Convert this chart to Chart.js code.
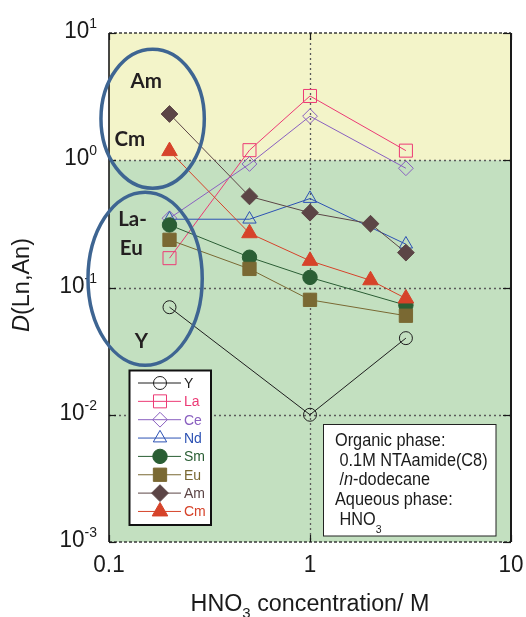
<!DOCTYPE html>
<html>
<head>
<meta charset="utf-8">
<script src="https://cdn.jsdelivr.net/npm/chart.js@4/dist/chart.umd.min.js"></script>
<style>
  html, body { margin: 0; padding: 0; background: #ffffff; }
  canvas { display: block; }
</style>
</head>
<body>
<canvas id="chart" width="526" height="617"></canvas>
<script>
// Axis ticks (log decades)
const xTickValues = [0.1, 1, 10];
const yTickValues = [10, 1, 0.1, 0.01, 0.001];

// HNO3 concentrations (M) sampled for each group of elements
const concY = [0.2, 1, 3];
const concLn = [0.2, 0.5, 1, 3];
const concAn = [0.2, 0.5, 1, 2, 3];

// Distribution ratios D
const dY  = [0.070, 0.010, 0.040];
const dLa = [0.17, 1.20, 3.20, 1.19];
const dCe = [0.35, 0.935, 2.22, 0.865];
const dNd = [0.344, 0.344, 0.50, 0.219];
const dSm = [0.31, 0.173, 0.12, 0.0726];
const dEu = [0.237, 0.14, 0.080, 0.060];
const dAm = [2.31, 0.52, 0.387, 0.317, 0.188];
const dCm = [1.18, 0.267, 0.162, 0.114, 0.082];

const seriesNames = ['Y', 'La', 'Ce', 'Nd', 'Sm', 'Eu', 'Am', 'Cm'];
const seriesX = [concY, concLn, concLn, concLn, concLn, concLn, concAn, concAn];
const seriesD = [dY, dLa, dCe, dNd, dSm, dEu, dAm, dCm];

// D = 1 separates the two shaded regions
const phaseBoundary = 1;

// Marker / colour styling per series
const seriesStyle = {
  Y:  { color: '#1e1e1e', shape: 'circle',   radius: 6.5, filled: false },
  La: { color: '#ec3a75', shape: 'rect',     radius: 9.2, filled: false },
  Ce: { color: '#8a60c0', shape: 'rectRot',  radius: 7.4, filled: false },
  Nd: { color: '#2d52b4', shape: 'triangle', radius: 7.7, filled: false },
  Sm: { color: '#2a5e34', shape: 'circle',   radius: 7.2, filled: true },
  Eu: { color: '#7a6933', shape: 'rect',     radius: 9.4, filled: true },
  Am: { color: '#5c4546', shape: 'rectRot',  radius: 8.4, filled: true },
  Cm: { color: '#d6432a', shape: 'triangle', radius: 9.0, filled: true }
};

// Grouping ellipses (bounding boxes in data units) and their captions
const groupEllipses = [
  { x: [0.0912, 0.298], y: [7.45, 0.603] },
  { x: [0.0786, 0.291], y: [0.561, 0.0245] }
];
const groupCaptions = [
  { text: 'Am',  x: 0.153, y: 4.20 },
  { text: 'Cm',  x: 0.127, y: 1.48 },
  { text: 'La-', x: 0.131, y: 0.345 },
  { text: 'Eu',  x: 0.129, y: 0.206 },
  { text: 'Y',   x: 0.145, y: 0.038 }
];

const FAM = '"Liberation Sans", Arial, Helvetica, sans-serif';
const YELLOW = '#f3f4c9';
const GREEN = '#c3e0c0';
const ELLIPSE = '#3e6592';

// draw a sequence of text pieces (different fonts / offsets) on one line
function drawRuns(ctx, parts, x, y, color, align, stretch) {
  ctx.save();
  ctx.fillStyle = color;
  ctx.textBaseline = 'alphabetic';
  ctx.textAlign = 'left';
  let total = 0;
  const widths = parts.map(p => { ctx.font = p.font; const w = ctx.measureText(p.t).width; total += w; return w; });
  let cx = align === 'center' ? x - total / 2 : align === 'right' ? x - total : x;
  parts.forEach((p, i) => {
    ctx.save();
    ctx.font = p.font;
    ctx.translate(cx, y + (p.dy || 0));
    ctx.scale(1, stretch || 1);
    ctx.fillText(p.t, 0, 0);
    ctx.restore();
    cx += widths[i];
  });
  ctx.restore();
}

function drawMarker(ctx, st, x, y) {
  ctx.save();
  ctx.strokeStyle = st.color;
  ctx.fillStyle = st.filled ? st.color : 'rgba(0,0,0,0)';
  ctx.lineWidth = 1;
  if (Chart.helpers && Chart.helpers.drawPoint) {
    Chart.helpers.drawPoint(ctx, { pointStyle: st.shape, radius: st.radius, rotation: 0, borderWidth: 1 }, x, y);
  } else {
    ctx.beginPath(); ctx.arc(x, y, st.radius, 0, Math.PI * 2); ctx.fill(); ctx.stroke();
  }
  ctx.restore();
}

const decorations = {
  id: 'decorations',
  beforeDatasetsDraw(chart) {
    const { ctx, chartArea: a, scales: { x, y } } = chart;
    const yOne = y.getPixelForValue(phaseBoundary);
    ctx.save();
    ctx.fillStyle = YELLOW;
    ctx.fillRect(a.left, a.top, a.right - a.left, yOne - a.top);
    ctx.fillStyle = GREEN;
    ctx.fillRect(a.left, yOne, a.right - a.left, a.bottom - yOne);

    // dotted decade grid
    ctx.strokeStyle = '#5a5a5a';
    ctx.lineWidth = 1.3;
    ctx.setLineDash([2, 3]);
    yTickValues.forEach(v => {
      const py = Math.round(y.getPixelForValue(v)) + 0.5;
      if (py <= a.top + 1 || py >= a.bottom - 1) return;
      ctx.beginPath(); ctx.moveTo(a.left, py); ctx.lineTo(a.right, py); ctx.stroke();
    });
    xTickValues.forEach(v => {
      const px = Math.round(x.getPixelForValue(v)) + 0.5;
      if (px <= a.left + 1 || px >= a.right - 1) return;
      ctx.beginPath(); ctx.moveTo(px, a.top); ctx.lineTo(px, a.bottom); ctx.stroke();
    });
    ctx.restore();
  },
  afterDatasetsDraw(chart) {
    const { ctx, chartArea: a, scales: { x, y } } = chart;
    ctx.save();

    // frame: dashed top/bottom, solid sides
    ctx.strokeStyle = '#3a3a3a';
    ctx.lineWidth = 1.6;
    ctx.setLineDash([3, 2]);
    ctx.beginPath(); ctx.moveTo(a.left, a.top); ctx.lineTo(a.right, a.top); ctx.stroke();
    ctx.beginPath(); ctx.moveTo(a.left, a.bottom); ctx.lineTo(a.right, a.bottom); ctx.stroke();
    ctx.setLineDash([]);
    ctx.strokeStyle = '#1a1a1a';
    ctx.lineWidth = 1.6;
    ctx.beginPath(); ctx.moveTo(a.left, a.top); ctx.lineTo(a.left, a.bottom); ctx.stroke();
    ctx.lineWidth = 2;
    ctx.beginPath(); ctx.moveTo(a.right, a.top); ctx.lineTo(a.right, a.bottom); ctx.stroke();

    // inward tick marks
    ctx.lineWidth = 1.2;
    yTickValues.forEach(v => {
      const py = Math.round(y.getPixelForValue(v)) + 0.5;
      ctx.beginPath(); ctx.moveTo(a.left, py); ctx.lineTo(a.left + 7, py); ctx.stroke();
      ctx.beginPath(); ctx.moveTo(a.right - 8, py); ctx.lineTo(a.right, py); ctx.stroke();
    });
    xTickValues.forEach(v => {
      const px = Math.round(x.getPixelForValue(v)) + 0.5;
      ctx.beginPath(); ctx.moveTo(px, a.bottom); ctx.lineTo(px, a.bottom - 7); ctx.stroke();
      ctx.beginPath(); ctx.moveTo(px, a.top); ctx.lineTo(px, a.top + 7); ctx.stroke();
    });

    // y tick labels 10^n
    yTickValues.forEach(v => {
      const py = y.getPixelForValue(v);
      const e = Math.round(Math.log10(v));
      drawRuns(ctx, [
        { t: '10', font: '22.5px ' + FAM },
        { t: String(e), font: '14px ' + FAM, dy: -10 }
      ], a.left - 12, py + 5, '#1a1a1a', 'right', 1.1);
    });
    // x tick labels
    xTickValues.forEach(v => {
      const px = x.getPixelForValue(v);
      drawRuns(ctx, [{ t: String(v), font: '22.5px ' + FAM }], px, 572, '#1a1a1a', 'center', 1.1);
    });

    // axis titles
    drawRuns(ctx, [
      { t: 'HNO', font: '23.3px ' + FAM },
      { t: '3', font: '15px ' + FAM, dy: 7 },
      { t: ' concentration/ M', font: '23.3px ' + FAM }
    ], (a.left + a.right) / 2, 611, '#1a1a1a', 'center', 1.0);

    ctx.save();
    ctx.translate(29, 285);
    ctx.rotate(-Math.PI / 2);
    drawRuns(ctx, [
      { t: 'D', font: 'italic 23.5px ' + FAM },
      { t: '(Ln,An)', font: '23.5px ' + FAM }
    ], 0, 0, '#1a1a1a', 'center', 1);
    ctx.restore();

    // group ellipses and captions
    ctx.strokeStyle = ELLIPSE;
    ctx.lineWidth = 3.5;
    groupEllipses.forEach(g => {
      const x0 = x.getPixelForValue(g.x[0]), x1 = x.getPixelForValue(g.x[1]);
      const y0 = y.getPixelForValue(g.y[0]), y1 = y.getPixelForValue(g.y[1]);
      ctx.beginPath();
      ctx.ellipse((x0 + x1) / 2, (y0 + y1) / 2, Math.abs(x1 - x0) / 2, Math.abs(y1 - y0) / 2, 0, 0, Math.PI * 2);
      ctx.stroke();
    });
    groupCaptions.forEach(c => {
      const px = x.getPixelForValue(c.x), py = y.getPixelForValue(c.y);
      drawRuns(ctx, [{ t: c.text, font: 'bold 20.5px Lato, ' + FAM }], px, py + 7, '#231f20', 'center', 1.05);
    });

    // legend box
    const lx = 129.5, ly = 370.5, lw = 81.5, lh = 154.5;
    ctx.fillStyle = '#ffffff';
    ctx.fillRect(lx, ly, lw, lh);
    ctx.strokeStyle = '#111111';
    ctx.lineWidth = 2;
    ctx.strokeRect(lx, ly, lw, lh);
    chart.data.datasets.forEach((ds, i) => {
      const st = seriesStyle[ds.label];
      const ry = 383 + i * 18.35;
      ctx.strokeStyle = st.color;
      ctx.lineWidth = 1;
      ctx.beginPath(); ctx.moveTo(138, ry); ctx.lineTo(181, ry); ctx.stroke();
      drawMarker(ctx, st, 160, ry);
      drawRuns(ctx, [{ t: ds.label, font: '14px ' + FAM }], 184, ry + 5, st.color, 'left', 1.1);
    });

    // conditions box
    const bx = 323.5, by = 424.5, bw = 172.5, bh = 111.5;
    ctx.fillStyle = '#ffffff';
    ctx.fillRect(bx, by, bw, bh);
    ctx.strokeStyle = '#222222';
    ctx.lineWidth = 1;
    ctx.strokeRect(bx, by, bw, bh);
    const f = '16.3px ' + FAM;
    const notes = [
      [{ t: 'Organic phase:', font: f }],
      [{ t: ' 0.1M NTAamide(C8)', font: f }],
      [{ t: ' /', font: f }, { t: 'n', font: 'italic ' + f }, { t: '-dodecane', font: f }],
      [{ t: 'Aqueous phase:', font: f }],
      [{ t: ' HNO', font: f }, { t: '3', font: '10.5px ' + FAM, dy: 8 }]
    ];
    const baselines = [446, 466, 485, 505, 525];
    notes.forEach((parts, i) => drawRuns(ctx, parts, 335, baselines[i], '#1a1a1a', 'left', 1.1));

    ctx.restore();
  }
};

const datasets = seriesNames.map((name, i) => {
  const st = seriesStyle[name];
  return {
    label: name,
    data: seriesX[i].map((c, j) => ({ x: c, y: seriesD[i][j] })),
    showLine: true,
    borderColor: st.color,
    borderWidth: 1,
    backgroundColor: st.filled ? st.color : 'rgba(0,0,0,0)',
    pointStyle: st.shape,
    pointRadius: st.radius,
    pointHoverRadius: st.radius,
    pointBorderWidth: 1,
    pointBorderColor: st.color,
    pointBackgroundColor: st.filled ? st.color : 'rgba(0,0,0,0)',
    order: seriesNames.length - i,
    tension: 0
  };
});

new Chart(document.getElementById('chart'), {
  type: 'scatter',
  data: { datasets },
  options: {
    responsive: false,
    animation: false,
    events: [],
    layout: { padding: { left: 0, top: 33, right: 15, bottom: 0 } },
    plugins: { legend: { display: false }, tooltip: { enabled: false } },
    scales: {
      x: {
        type: 'logarithmic', min: 0.1, max: 10,
        ticks: { display: false },
        grid: { display: false },
        border: { display: false },
        afterFit: s => { s.height = 75; }
      },
      y: {
        type: 'logarithmic', min: 0.001, max: 10,
        ticks: { display: false },
        grid: { display: false },
        border: { display: false },
        afterFit: s => { s.width = 109; }
      }
    }
  },
  plugins: [decorations]
});
</script>
</body>
</html>
